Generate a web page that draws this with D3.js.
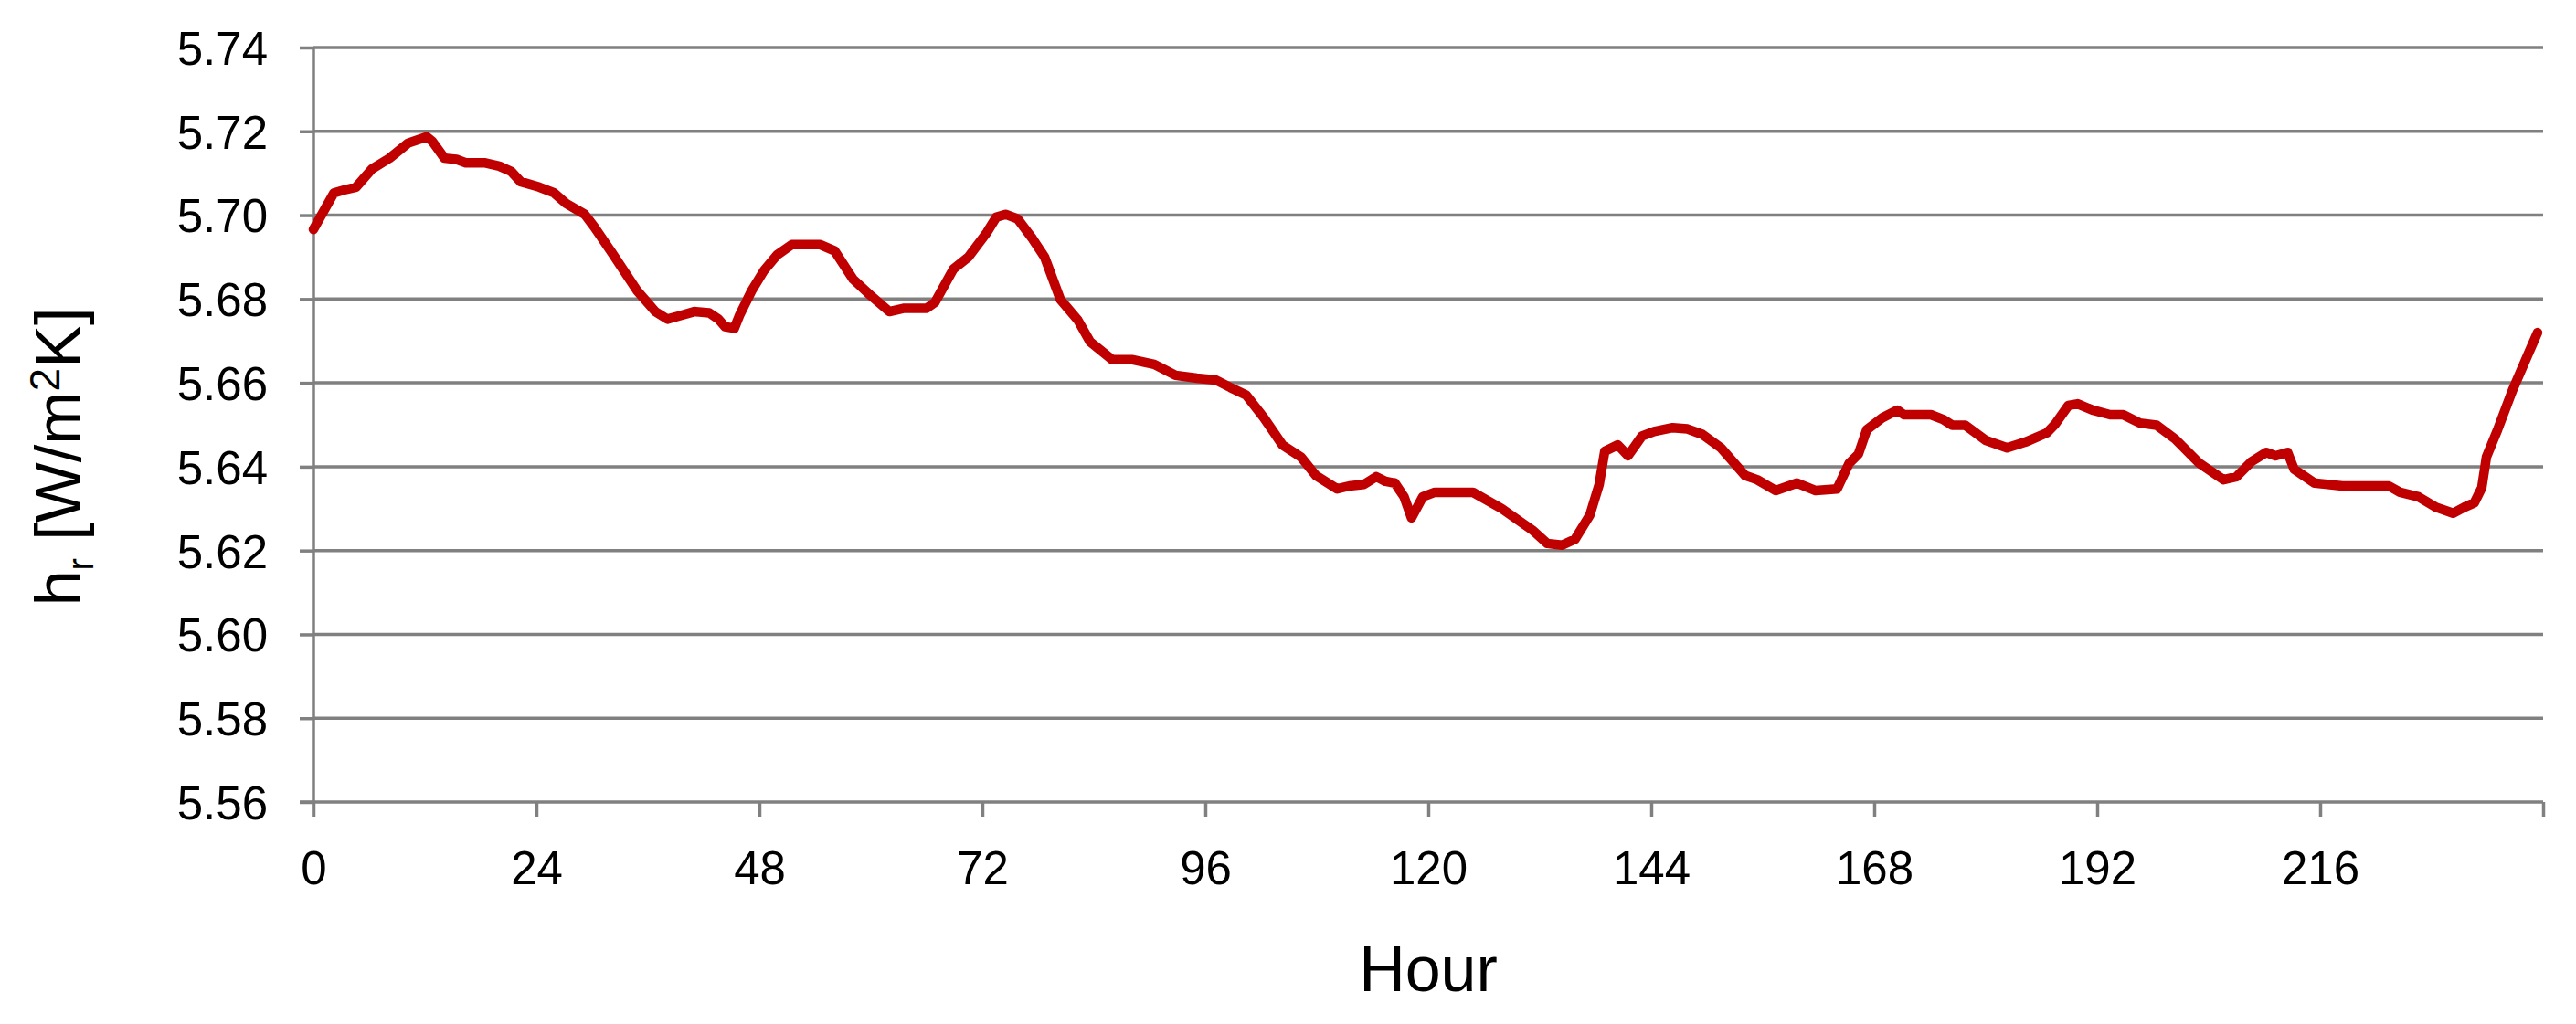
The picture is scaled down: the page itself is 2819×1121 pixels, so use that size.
<!DOCTYPE html>
<html>
<head>
<meta charset="utf-8">
<script src="https://cdn.jsdelivr.net/npm/d3@7"></script>
<style>
  html, body { margin: 0; padding: 0; background: #fff; }
  svg { display: block; font-family: "Liberation Sans", Arial, sans-serif; }
</style>
</head>
<body>
<div id="chart"></div>
<script>
// values (hour, h_r)
const hours = [0, 2.2, 3.3, 4.6, 6.3, 8.2, 10.2, 12.2, 12.8, 14.1, 15.4, 16.4, 18.4, 20.0, 21.3, 22.3,
    24.3, 25.9, 27.2, 29.2, 30.2, 32.2, 34.8, 36.8, 38.1, 39.4, 41.0, 42.6, 43.6, 44.3, 45.3, 45.9,
    47.2, 48.5, 49.9, 51.5, 54.5, 56.1, 58.1, 59.7, 62.0, 63.6, 66.0, 66.9, 68.9, 70.5, 72.5, 73.5,
    74.5, 75.8, 77.4, 78.7, 80.4, 82.3, 83.6, 86.0, 88.2, 90.5, 92.8, 95.1, 97.1, 98.7, 100.4, 102.3,
    104.3, 106.3, 107.9, 110.2, 111.5, 113.1, 114.4, 115.4, 116.4, 117.4, 118.2, 119.4, 120.7, 124.8,
    127.9, 131.2, 132.8, 134.4, 135.8, 137.4, 138.4, 139.0, 140.4, 141.5, 143.0, 144.3, 146.3, 147.9,
    149.5, 151.5, 154.1, 155.4, 157.4, 159.7, 161.7, 164.0, 165.3, 166.3, 167.2, 168.9, 170.5, 171.2,
    174.1, 175.4, 176.4, 177.8, 180.0, 182.3, 184.3, 186.6, 187.5, 188.9, 189.9, 191.5, 193.4, 194.8,
    196.6, 198.4, 200.4, 203.0, 205.6, 207.0, 208.6, 210.2, 211.2, 212.5, 213.2, 215.4, 218.4, 223.4,
    224.6, 226.6, 228.5, 230.3, 231.5, 232.6, 233.4, 233.9, 235.1, 236.7, 238.4, 239.4];

const hr = [5.6966, 5.7053, 5.7060, 5.7067, 5.7110, 5.7136, 5.7172, 5.7187, 5.7176, 5.7136, 5.7133, 5.7125, 5.7125, 5.7117, 5.7104, 5.7080,
    5.7067, 5.7053, 5.7028, 5.7002, 5.6973, 5.6908, 5.6821, 5.6770, 5.6752, 5.6760, 5.6770, 5.6767, 5.6752, 5.6734, 5.6730, 5.6763,
    5.6821, 5.6868, 5.6905, 5.6930, 5.6930, 5.6915, 5.6847, 5.6814, 5.6770, 5.6778, 5.6778, 5.6792, 5.6872, 5.6900, 5.6959, 5.6995,
    5.7002, 5.6991, 5.6944, 5.6900, 5.6799, 5.6749, 5.6698, 5.6655, 5.6655, 5.6644, 5.6618, 5.6611, 5.6607, 5.6589, 5.6571, 5.6517,
    5.6452, 5.6423, 5.6379, 5.6347, 5.6354, 5.6358, 5.6376, 5.6365, 5.6361, 5.6328, 5.6278, 5.6328, 5.6339, 5.6339,
    5.6300, 5.6249, 5.6217, 5.6213, 5.6227, 5.6285, 5.6358, 5.6437, 5.6452, 5.6426, 5.6473, 5.6484, 5.6493, 5.6490,
    5.6477, 5.6445, 5.6379, 5.6369, 5.6343, 5.6361, 5.6343, 5.6347, 5.6408, 5.6430, 5.6488, 5.6517, 5.6535, 5.6524,
    5.6524, 5.6513, 5.6499, 5.6499, 5.6463, 5.6445, 5.6459, 5.6481, 5.6502, 5.6546, 5.6550, 5.6535, 5.6524, 5.6524,
    5.6504, 5.6499, 5.6466, 5.6408, 5.6369, 5.6376, 5.6412, 5.6434, 5.6426, 5.6434, 5.6394, 5.6361, 5.6354, 5.6354,
    5.6339, 5.6328, 5.6303, 5.6289, 5.6303, 5.6314, 5.6350, 5.6423, 5.6488, 5.6582, 5.6669, 5.6720];

const yTicks = [5.56, 5.58, 5.60, 5.62, 5.64, 5.66, 5.68, 5.70, 5.72, 5.74];
const xTicks = [0, 24, 48, 72, 96, 120, 144, 168, 192, 216, 240];
const xLabels = ["0", "24", "48", "72", "96", "120", "144", "168", "192", "216", ""];

const width = 2819;
const height = 1121;
const margin = {top: 52, right: 36, bottom: 243, left: 343};
const gridColor = "#808080";

const x = d3.scaleLinear()
    .domain([0, 240])
    .range([margin.left, width - margin.right]);

const y = d3.scaleLinear()
    .domain([5.56, 5.74])
    .range([height - margin.bottom, margin.top]);

const svg = d3.select("#chart").append("svg")
    .attr("width", width)
    .attr("height", height)
    .attr("viewBox", [0, 0, width, height]);

// horizontal gridlines
svg.append("g")
  .selectAll("line")
  .data(yTicks.slice(1))
  .join("line")
    .attr("x1", margin.left)
    .attr("x2", width - margin.right)
    .attr("y1", d => y(d))
    .attr("y2", d => y(d))
    .attr("stroke", gridColor)
    .attr("stroke-width", 3.5);

const yAxis = svg.append("g")
    .attr("transform", `translate(${margin.left},0)`)
    .call(d3.axisLeft(y)
        .tickValues(yTicks)
        .tickSizeInner(15)
        .tickSizeOuter(0)
        .tickPadding(35)
        .tickFormat(d3.format(".2f")));

const xAxis = svg.append("g")
    .attr("transform", `translate(0,${height - margin.bottom})`)
    .call(d3.axisBottom(x)
        .tickValues(xTicks)
        .tickSizeInner(16)
        .tickSizeOuter(0)
        .tickPadding(38)
        .tickFormat((d, i) => xLabels[i]));

// y axis runs down into the first x tick
yAxis.select(".domain").attr("d", `M0,${margin.top}V${height - margin.bottom + 16}`);
xAxis.select(".domain").attr("d", `M${margin.left - 15},0H${width - margin.right}`);

[yAxis, xAxis].forEach(a => {
    a.selectAll(".domain, .tick line")
        .attr("stroke", gridColor)
        .attr("stroke-width", 3.5);
    a.selectAll(".tick text")
        .attr("fill", "#000")
        .style("font-size", "51px")
        .style("font-family", "\"Liberation Sans\", Arial, sans-serif");
});
yAxis.selectAll(".tick text").attr("dy", "0.36em");

const line = d3.line()
    .x(d => x(d[0]))
    .y(d => y(d[1]));

svg.append("path")
    .datum(hours.map((h, i) => [h, hr[i]]))
    .attr("fill", "none")
    .attr("stroke", "#C00000")
    .attr("stroke-width", 10.5)
    .attr("stroke-linejoin", "round")
    .attr("stroke-linecap", "round")
    .attr("d", line);

// axis titles
svg.append("text")
    .attr("x", (margin.left + width - margin.right) / 2)
    .attr("y", 1085)
    .attr("text-anchor", "middle")
    .style("font-size", "70px")
    .text("Hour");

const yTitle = svg.append("text")
    .attr("transform", "translate(88,500) rotate(-90)")
    .attr("text-anchor", "middle")
    .style("font-size", "70px");
yTitle.append("tspan").text("h");
yTitle.append("tspan").attr("dy", 14).style("font-size", "40px").text("r");
yTitle.append("tspan").attr("dy", -14).text(" [W/m");
yTitle.append("tspan").attr("dy", -23).style("font-size", "46px").text("2");
yTitle.append("tspan").attr("dy", 23).text("K]");
</script>
</body>
</html>
